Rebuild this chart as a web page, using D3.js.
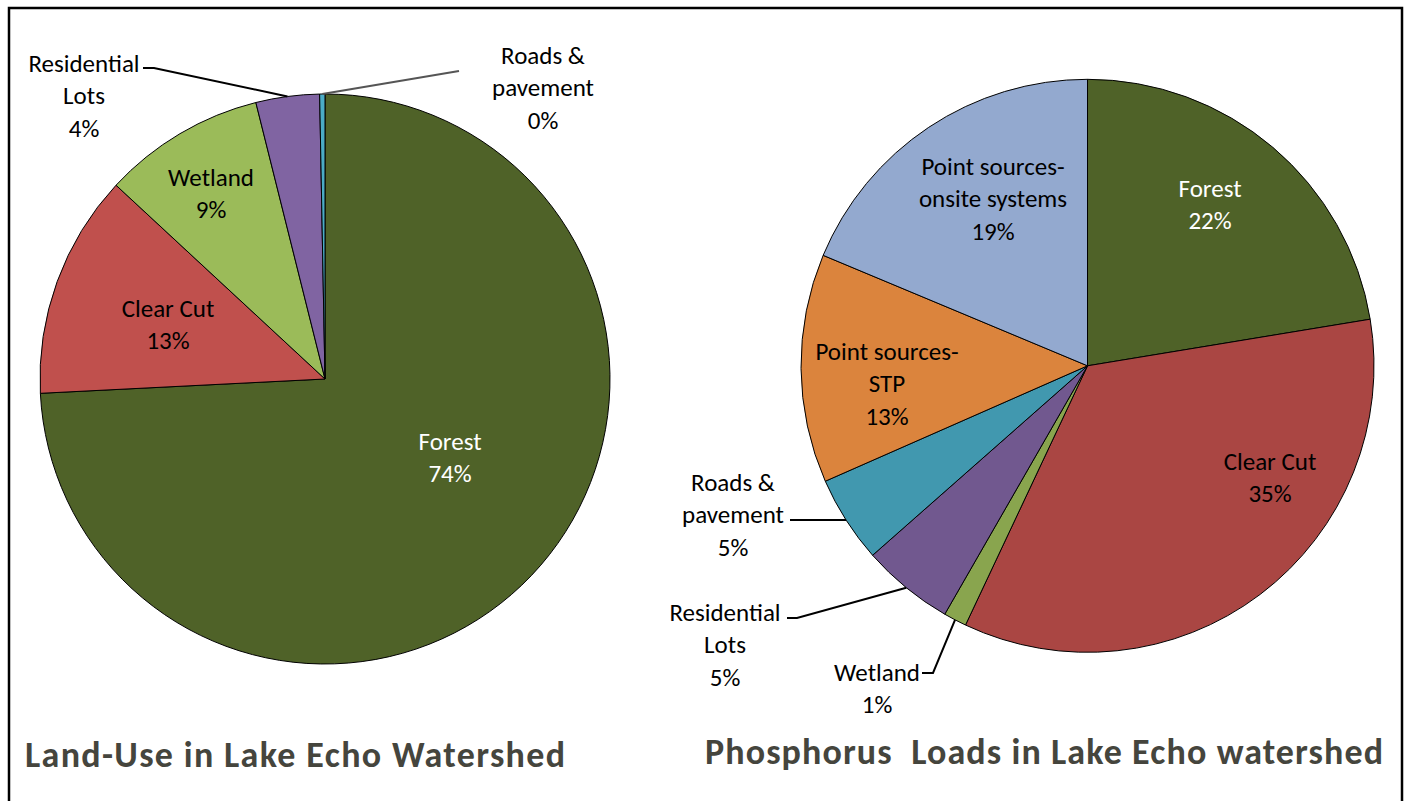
<!DOCTYPE html>
<html>
<head>
<meta charset="utf-8">
<script src="https://cdn.jsdelivr.net/npm/d3@7"></script>
<style>
  html, body { margin: 0; padding: 0; background: #fff; }
  svg { display: block; }
  text { font-family: Carlito, Calibri, Lato, "Open Sans", sans-serif; }
</style>
</head>
<body>
<svg id="chart" width="1409" height="801"></svg>
<script>
// Land-use shares (% of watershed area)
const landUseCategories = ["Forest", "Clear Cut", "Wetland", "Residential Lots", "Roads & pavement"];
const landUseValues = [74.2, 12.7, 9.2, 3.6, 0.3];

// Phosphorus load shares (% of total load)
const phosphorusCategories = ["Forest", "Clear Cut", "Wetland", "Residential Lots", "Roads & pavement", "Point sources-STP", "Point sources-onsite systems"];
const phosphorusValues = [22.4, 34.6, 1.3, 5.2, 4.9, 12.9, 18.7];

const landUseColors = ["#4F6228", "#C0504D", "#9BBB59", "#8064A2", "#4BACC6"];
const phosphorusColors = ["#4F6228", "#AA4643", "#89A54E", "#71588F", "#4198AF", "#DB843D", "#93A9CF"];

const titles = ["Land-Use in Lake Echo Watershed", "Phosphorus  Loads in Lake Echo watershed"];

// Label layout: text lines (name part), anchor of first line, text colour, optional leader elbow
const landUseLabels = [
  { lines: ["Forest"], x: 450, y: 441, fill: "#fff" },
  { lines: ["Clear Cut"], x: 168, y: 308, fill: "#000" },
  { lines: ["Wetland"], x: 211, y: 177, fill: "#000" },
  { lines: ["Residential", "Lots"], x: 84, y: 63, fill: "#000", leader: [[143, 68], [154, 68]], leaderColor: "#000" },
  { lines: ["Roads &", "pavement"], x: 543, y: 55, fill: "#000", leader: [[459, 71]], leaderColor: "#555" }
];
const phosphorusLabels = [
  { lines: ["Forest"], x: 1210, y: 188, fill: "#fff" },
  { lines: ["Clear Cut"], x: 1270, y: 461, fill: "#000" },
  { lines: ["Wetland"], x: 877, y: 672, fill: "#000", leader: [[922, 673], [933, 673]], leaderColor: "#000" },
  { lines: ["Residential", "Lots"], x: 725, y: 612, fill: "#000", leader: [[787, 618], [797, 618]], leaderColor: "#000" },
  { lines: ["Roads &", "pavement"], x: 733, y: 482, fill: "#000", leader: [[790, 520], [800, 520]], leaderColor: "#000" },
  { lines: ["Point sources-", "STP"], x: 887, y: 351, fill: "#000" },
  { lines: ["Point sources-", "onsite systems"], x: 993, y: 166, fill: "#000" }
];

const svg = d3.select("#chart");

// Outer frame
svg.append("rect")
  .attr("x", 9).attr("y", 8)
  .attr("width", 1393).attr("height", 800)
  .attr("fill", "none").attr("stroke", "#000").attr("stroke-width", 2.5);

function drawPie(cfg) {
  const { categories, values, colors, cx, cy, r, labels } = cfg;
  const data = categories.map((c, i) => ({ name: c, value: values[i], color: colors[i] }));
  const total = d3.sum(values);
  const pct = d => Math.round(d.value / total * 100) + "%";

  const pie = d3.pie().sort(null).value(d => d.value).startAngle(0).endAngle(2 * Math.PI);
  const arcs = pie(data);
  const arc = d3.arc().innerRadius(0).outerRadius(r);
  const edge = d3.arc().innerRadius(r).outerRadius(r);

  const g = svg.append("g").attr("transform", `translate(${cx},${cy})`);
  g.selectAll("path.slice")
    .data(arcs)
    .join("path")
    .attr("class", "slice")
    .attr("d", arc)
    .attr("fill", d => d.data.color)
    .attr("stroke", "#000")
    .attr("stroke-width", 1)
    .attr("stroke-linejoin", "round");

  const lineH = 32.5;
  arcs.forEach((a, i) => {
    const lab = labels[i];
    if (lab.leader) {
      const [ex, ey] = edge.centroid(a);
      const pts = lab.leader.concat([[cx + ex, cy + ey]]);
      svg.append("path")
        .attr("d", d3.line()(pts))
        .attr("fill", "none")
        .attr("stroke", lab.leaderColor)
        .attr("stroke-width", 2);
    }
    const lines = lab.lines.concat([pct(a.data)]);
    const t = svg.append("text")
      .attr("text-anchor", "middle")
      .attr("font-size", 25)
      .attr("fill", lab.fill);
    lines.forEach((s, k) => {
      t.append("tspan")
        .attr("x", lab.x)
        .attr("y", lab.y + k * lineH)
        .attr("dominant-baseline", "central")
        .text(s);
    });
  });
}

drawPie({
  categories: landUseCategories, values: landUseValues, colors: landUseColors,
  cx: 325, cy: 379, r: 285, labels: landUseLabels
});
drawPie({
  categories: phosphorusCategories, values: phosphorusValues, colors: phosphorusColors,
  cx: 1087.5, cy: 365.8, r: 286.5, labels: phosphorusLabels
});

// Titles, letter-spaced to fill their spans
const titleBoxes = [{ x0: 25, x1: 565, y: 755 }, { x0: 705, x1: 1383, y: 752 }];
titles.forEach((s, i) => {
  const b = titleBoxes[i];
  const t = svg.append("text")
    .attr("x", b.x0).attr("y", b.y)
    .attr("dominant-baseline", "central")
    .attr("font-weight", "bold")
    .attr("font-size", 36)
    .attr("fill", "#45453D")
    .style("white-space", "pre")
    .attr("xml:space", "preserve")
    .text(s);
  const w = t.node().getComputedTextLength();
  const ls = Math.max(0, ((b.x1 - b.x0) - w) / (s.length - 1));
  t.attr("letter-spacing", ls);
});
</script>
</body>
</html>
